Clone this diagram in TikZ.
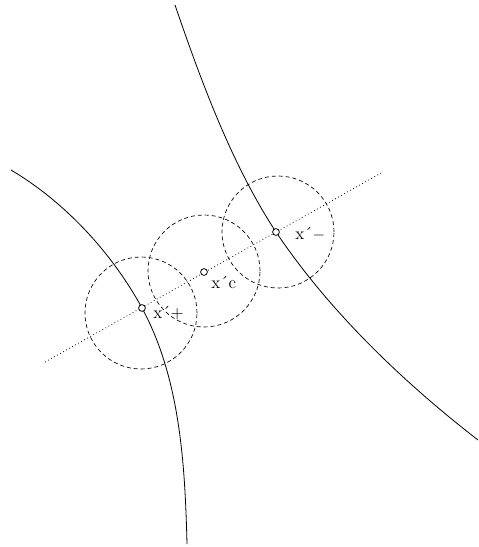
\documentclass[tikz,border=0pt]{standalone}
\begin{document}
\begin{tikzpicture}[x=0.75pt,y=-0.75pt,
  curve/.style={line width=0.6pt},
  zone/.style={draw,circle,dash pattern=on 3pt off 2.2pt,line width=0.5pt,minimum size=84pt,inner sep=0pt},
  pt/.style={draw,circle,minimum size=5pt,inner sep=0pt,line width=0.5pt},
  lab/.style={font=\fontsize{13}{15}\selectfont,anchor=base west,inner sep=0pt}]
\useasboundingbox (0,0) rectangle (479,547);
\coordinate (la) at (45,362);
\coordinate (lb) at (383,172);
\draw[dotted,line width=0.6pt] (la) -- (lb);
\coordinate (a0) at (11,170);
\coordinate (a2) at (187,544);
\coordinate (b0) at (175,5);
\coordinate (b2) at (478,440);
\node[zone] (c1) at (141,313) {};
\node[zone] (c2) at (204,271) {};
\node[zone] (c3) at (278,232) {};
\node[pt] (p1) at (142,308) {};
\node[pt] (p2) at (204,272) {};
\node[pt] (p3) at (276,232) {};
\draw[curve] (a0) .. controls (65,202) and (112,253) .. (p1.center)
  .. controls (180,378) and (185,464) .. (a2);
\draw[curve] (b0) .. controls (201,81) and (232,165) .. (p3.center)
  .. controls (329,311) and (403,382) .. (b2);
\node[pt,fill=white] at (p1) {};
\node[pt,fill=white] at (p2) {};
\node[pt,fill=white] at (p3) {};
\node[lab] (l1) at (153,318) {x\'{}+};
\node[lab] (l2) at (211,288) {x\'{}c};
\node[lab] (l3) at (295,239) {x\'{}$-$};
\end{tikzpicture}
\end{document}
